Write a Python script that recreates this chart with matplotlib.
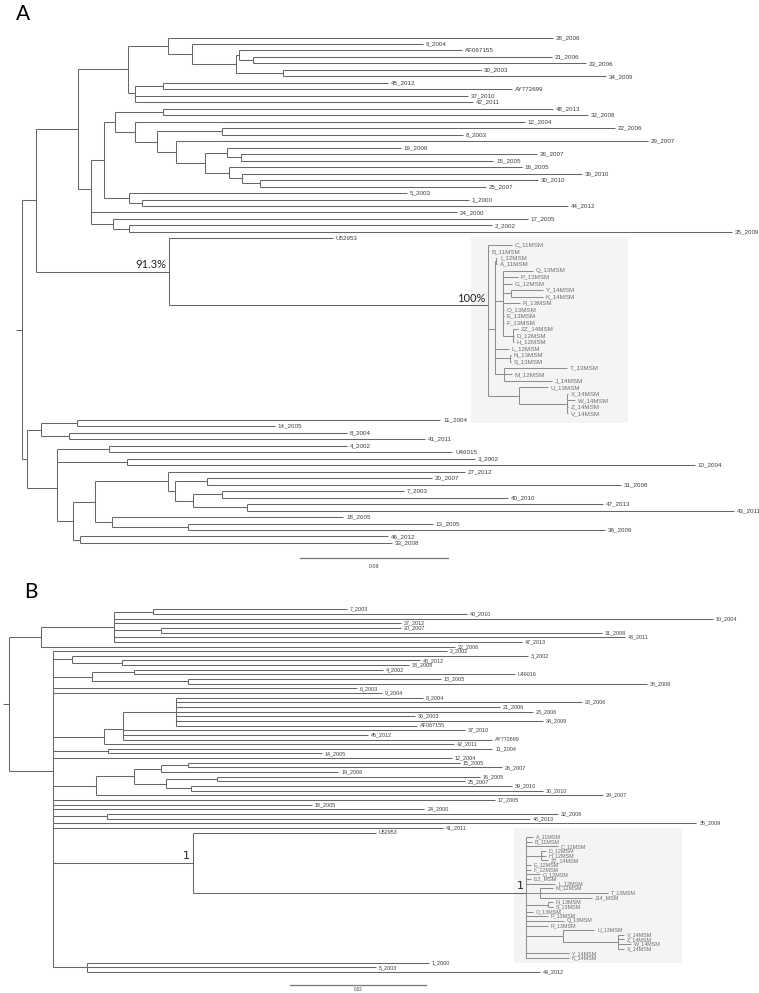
import matplotlib
matplotlib.use("Agg")
import matplotlib.pyplot as plt
import numpy as np
from matplotlib.collections import LineCollection
from matplotlib.patches import Rectangle

# ======================= Panel A (ML tree) =======================
A_LEAVES = ["28_2006", "9_2004", "AF067155", "21_2006", "23_2006", "30_2003", "34_2009", "45_2012",
            "AY772699", "37_2010", "42_2011", "48_2013", "32_2008", "12_2004", "22_2006", "8_2003",
            "29_2007", "19_2006", "26_2007", "15_2005", "16_2005", "39_2010", "30_2010", "25_2007",
            "5_2003", "1_2000", "44_2012", "24_2000", "17_2005", "2_2002", "35_2009", "U52953",
            "C_11MSM", "B_11MSM", "I_12MSM", "A_11MSM", "Q_13MSM", "P_13MSM", "G_12MSM", "Y_14MSM",
            "K_14MSM", "R_13MSM", "O_13MSM", "E_13MSM", "F_13MSM", "ZZ_14MSM", "D_12MSM", "H_12MSM",
            "L_12MSM", "N_13MSM", "S_13MSM", "T_13MSM", "M_12MSM", "J_14MSM", "U_13MSM", "X_14MSM",
            "W_14MSM", "Z_14MSM", "V_14MSM",
            "11_2004", "14_2005", "8_2004", "41_2011", "4_2002", "U46015", "3_2002", "10_2004",
            "27_2012", "20_2007", "31_2008", "7_2003", "40_2010", "47_2013", "43_2011", "18_2005",
            "13_2005", "36_2009", "46_2012", "33_2008"]
# distance of each tip from the root (substitutions/site)
A_TIPS = [0.3229, 0.2438, 0.2675, 0.3222, 0.3429, 0.2791, 0.3551, 0.2225,
          0.2979, 0.2712, 0.2742, 0.3229, 0.3441, 0.3058, 0.3605, 0.2681,
          0.3806, 0.2304, 0.3131, 0.2864, 0.3040, 0.3405, 0.3137, 0.2821,
          0.2341, 0.2718, 0.3320, 0.2645, 0.3076, 0.2858, 0.4317, 0.1891,
          0.2979, 0.2839, 0.2888, 0.2888, 0.3107, 0.3016, 0.2979, 0.3168,
          0.3168, 0.3028, 0.2931, 0.2931, 0.2931, 0.3016, 0.2991, 0.2991,
          0.2961, 0.2973, 0.2973, 0.3314, 0.2979, 0.3222, 0.3198, 0.3320,
          0.3362, 0.3320, 0.3320,
          0.2542, 0.1538, 0.1976, 0.2450, 0.1976, 0.2615, 0.2754, 0.4092,
          0.2693, 0.2493, 0.3642, 0.2323, 0.2955, 0.3532, 0.4329, 0.1952,
          0.2499, 0.3545, 0.2225, 0.2250]
# internal nodes: (id, distance from root, children)
A_NODES = [
    ("rootA", 0.0, ["a1", "b1"]),
    ("a1", 0.0085, ["top", "n913"]),
    ("top", 0.0341, ["g", "k"]),
    ("g", 0.0645, ["na", "h"]),
    ("na", 0.0888, ["28_2006", "nb"]),
    ("nb", 0.1034, ["9_2004", "nc"]),
    ("nc", 0.1301, ["nd", "ne"]),
    ("nd", 0.1319, ["AF067155", "nf"]),
    ("nf", 0.1405, ["21_2006", "23_2006"]),
    ("ne", 0.1587, ["30_2003", "34_2009"]),
    ("h", 0.0687, ["ni", "h2"]),
    ("ni", 0.0857, ["45_2012", "AY772699"]),
    ("h2", 0.0687, ["37_2010", "42_2011"]),
    ("k", 0.0420, ["l", "k2"]),
    ("k2", 0.0420, ["24_2000", "m"]),
    ("m", 0.0553, ["17_2005", "nn"]),
    ("nn", 0.0651, ["2_2002", "35_2009"]),
    ("l", 0.0499, ["o", "p"]),
    ("p", 0.0651, ["5_2003", "q"]),
    ("q", 0.0730, ["1_2000", "44_2012"]),
    ("o", 0.0566, ["r", "s"]),
    ("r", 0.0857, ["48_2013", "32_2008"]),
    ("s", 0.0687, ["12_2004", "t"]),
    ("t", 0.0821, ["u", "v"]),
    ("u", 0.1216, ["22_2006", "8_2003"]),
    ("v", 0.0936, ["29_2007", "w"]),
    ("w", 0.1113, ["x", "y"]),
    ("x", 0.1247, ["19_2006", "z"]),
    ("z", 0.1332, ["26_2007", "15_2005"]),
    ("y", 0.1259, ["16_2005", "aa"]),
    ("aa", 0.1338, ["39_2010", "ab"]),
    ("ab", 0.1447, ["30_2010", "25_2007"]),
    ("n913", 0.0894, ["U52953", "msm"]),
    ("msm", 0.2834, ["C_11MSM", "B_11MSM", "mp1", "mu"]),
    ("mp1", 0.2876, ["mia", "mq", "L_12MSM", "mns", "mtmj"]),
    ("mia", 0.2882, ["I_12MSM", "A_11MSM"]),
    ("mq", 0.2925, ["Q_13MSM", "P_13MSM", "G_12MSM", "myk", "R_13MSM", "O_13MSM",
                    "E_13MSM", "F_13MSM", "mzdh"]),
    ("myk", 0.2973, ["Y_14MSM", "K_14MSM"]),
    ("mzdh", 0.2985, ["ZZ_14MSM", "D_12MSM", "H_12MSM"]),
    ("mns", 0.2967, ["N_13MSM", "S_13MSM"]),
    ("mtmj", 0.2931, ["T_13MSM", "M_12MSM", "J_14MSM"]),
    ("mu", 0.3022, ["U_13MSM", "mxwzv"]),
    ("mxwzv", 0.3314, ["X_14MSM", "W_14MSM", "Z_14MSM", "V_14MSM"]),
    ("b1", 0.0030, ["d", "e"]),
    ("d", 0.0116, ["c", "gg"]),
    ("c", 0.0334, ["11_2004", "14_2005"]),
    ("gg", 0.0286, ["8_2004", "41_2011"]),
    ("e", 0.0213, ["hi", "j"]),
    ("hi", 0.0213, ["hh", "ii"]),
    ("hh", 0.0529, ["4_2002", "U46015"]),
    ("ii", 0.0638, ["3_2002", "10_2004"]),
    ("j", 0.0310, ["kk", "ll"]),
    ("kk", 0.0444, ["mm", "nnn"]),
    ("mm", 0.0888, ["27_2012", "pp"]),
    ("pp", 0.0930, ["qq", "rr"]),
    ("qq", 0.1125, ["20_2007", "31_2008"]),
    ("rr", 0.1040, ["ss", "tt"]),
    ("ss", 0.1216, ["7_2003", "40_2010"]),
    ("tt", 0.1368, ["47_2013", "43_2011"]),
    ("nnn", 0.0547, ["18_2005", "oo"]),
    ("oo", 0.1009, ["13_2005", "36_2009"]),
    ("ll", 0.0353, ["46_2012", "33_2008"]),
]
A_SUPPORT = {"n913": "91.3%", "msm": "100%"}
A_CLADE = "msm"
A_SCALE = 0.09

# ======================= Panel B (Bayesian tree) =======================
B_LEAVES = ["7_2003", "40_2010", "10_2004", "27_2012", "20_2007", "31_2008", "43_2011", "47_2013",
            "22_2006", "2_2002", "3_2002", "46_2012", "33_2008", "4_2002", "U46016", "13_2005",
            "36_2009", "6_2003", "9_2004", "8_2004", "28_2006", "21_2006", "23_2006", "30_2003",
            "34_2009", "AF067155", "37_2010", "45_2012", "AY772699", "42_2011", "11_2004", "14_2005",
            "12_2004", "15_2005", "26_2007", "19_2006", "16_2005", "25_2007", "39_2010", "30_2010",
            "29_2007", "17_2005", "18_2005", "24_2000", "32_2008", "48_2013", "35_2009", "41_2011",
            "U52953",
            "A_11MSM", "B_11MSM", "C_11MSM", "D_12MSM", "H_12MSM", "ZZ_14MSM", "E_12MSM", "F_12MSM",
            "G_12MSM", "I12_MSM", "L_12MSM", "M_12MSM", "T_13MSM", "J14_MSM", "N_13MSM", "S_13MSM",
            "O_13MSM", "P_13MSM", "Q_13MSM", "R_13MSM", "U_13MSM", "V_14MSM", "Z_14MSM", "W_14MSM",
            "X_14MSM", "Y_14MSM", "K_14MSM",
            "1_2000", "5_2003", "44_2012"]
B_TIPS = [0.0497, 0.0673, 0.1035, 0.0576, 0.0576, 0.0872, 0.0906, 0.0754,
          0.0656, 0.0644, 0.0763, 0.0604, 0.0588, 0.0550, 0.0744, 0.0635,
          0.0938, 0.0512, 0.0548, 0.0609, 0.0842, 0.0722, 0.0770, 0.0597,
          0.0785, 0.0600, 0.0670, 0.0528, 0.0710, 0.0654, 0.0711, 0.0460,
          0.0651, 0.0663, 0.0725, 0.0484, 0.0692, 0.0670, 0.0739, 0.0785,
          0.0873, 0.0714, 0.0445, 0.0611, 0.0807, 0.0766, 0.1011, 0.0638,
          0.0539,
          0.0770, 0.0769, 0.0807, 0.0789, 0.0789, 0.0792, 0.0767, 0.0767,
          0.0781, 0.0767, 0.0803, 0.0800, 0.0881, 0.0858, 0.0800, 0.0800,
          0.0770, 0.0792, 0.0816, 0.0792, 0.0861, 0.0904, 0.0904, 0.0914,
          0.0904, 0.0823, 0.0823,
          0.0617, 0.0539, 0.0781]
B_NODES = [
    ("rootB", 0.0, ["b1", "b2"]),
    ("b1", 0.0047, ["b3", "22_2006"]),
    ("b3", 0.0154, ["b740", "10_2004", "27_2012", "b2031", "43_2011", "47_2013"]),
    ("b740", 0.0212, ["7_2003", "40_2010"]),
    ("b2031", 0.0223, ["20_2007", "31_2008"]),
    ("b2", 0.0065, ["2_2002", "b4", "b5", "6_2003", "9_2004", "b8", "b9", "12_2004", "b10",
                    "17_2005", "18_2005", "24_2000", "b3248", "35_2009", "41_2011", "bmsm", "bbot"]),
    ("b4", 0.0093, ["3_2002", "b4633"]),
    ("b4633", 0.0166, ["46_2012", "33_2008"]),
    ("b5", 0.0122, ["b4u", "b1336"]),
    ("b4u", 0.0184, ["4_2002", "U46016"]),
    ("b1336", 0.0263, ["13_2005", "36_2009"]),
    ("b8", 0.0140, ["b7", "42_2011"]),
    ("b7", 0.0168, ["b6", "37_2010", "45_2012", "AY772699"]),
    ("b6", 0.0246, ["8_2004", "28_2006", "21_2006", "23_2006", "30_2003", "34_2009", "AF067155"]),
    ("b9", 0.0146, ["11_2004", "14_2005"]),
    ("b10", 0.0128, ["b11", "29_2007"]),
    ("b11", 0.0184, ["b12", "b13"]),
    ("b12", 0.0223, ["b1526", "19_2006"]),
    ("b1526", 0.0263, ["15_2005", "26_2007"]),
    ("b13", 0.0231, ["b1625", "b3930"]),
    ("b1625", 0.0306, ["16_2005", "25_2007"]),
    ("b3930", 0.0268, ["39_2010", "30_2010"]),
    ("b3248", 0.0144, ["32_2008", "48_2013"]),
    ("bmsm", 0.0270, ["U52953", "mb"]),
    ("mb", 0.0761, ["A_11MSM", "B_11MSM", "C_11MSM", "mbdhz", "E_12MSM", "F_12MSM", "G_12MSM",
                    "I12_MSM", "L_12MSM", "mbmtj", "mbns", "O_13MSM", "P_13MSM", "Q_13MSM",
                    "R_13MSM", "mbu", "Y_14MSM", "K_14MSM"]),
    ("mbdhz", 0.0782, ["D_12MSM", "H_12MSM", "ZZ_14MSM"]),
    ("mbmtj", 0.0781, ["M_12MSM", "T_13MSM", "J14_MSM"]),
    ("mbns", 0.0792, ["N_13MSM", "S_13MSM"]),
    ("mbu", 0.0815, ["U_13MSM", "mbvzwx"]),
    ("mbvzwx", 0.0895, ["V_14MSM", "Z_14MSM", "W_14MSM", "X_14MSM"]),
    ("bbot", 0.0115, ["1_2000", "5_2003", "44_2012"]),
]
B_SUPPORT = {"bmsm": "1", "mb": "1"}
B_CLADE = "mb"
B_SCALE = 0.02

# ======================= drawing =======================
W, H = 759, 993
fig = plt.figure(figsize=(W / 100, H / 100), dpi=100)

LINE = "#666666"
LINE_IN = "#8e8e8e"
TXT = "#3c3c3c"
TXT_IN = "#707070"


def make_axes(top_px, bot_px, px_per_unit, root_px, y0_px, dy_px):
    ax = fig.add_axes([0, 1 - bot_px / H, 1, (bot_px - top_px) / H])
    ax.set_xlim(-root_px / px_per_unit, (W - root_px) / px_per_unit)
    ax.set_ylim((bot_px - y0_px) / dy_px, (top_px - y0_px) / dy_px)
    ax.axis("off")
    ax.patch.set_alpha(0)
    return ax


def draw_tree(ax, leaves, tips, nodes, root, support, clade, px, fs, sfs, sfam):
    depth = dict(zip(leaves, tips))
    ypos = {n: float(i) for i, n in enumerate(leaves)}
    kids = {}
    for nid, d, ch in nodes:
        depth[nid] = d
        kids[nid] = ch

    def gety(n):
        if n not in ypos:
            ypos[n] = float(np.mean([gety(c) for c in kids[n]]))
        return ypos[n]

    gety(root)

    inside = set()

    def collect(n):
        inside.add(n)
        for c in kids.get(n, []):
            collect(c)

    collect(clade)

    segs, cols = [], []
    for nid, d, ch in nodes:
        ys = [ypos[c] for c in ch]
        col = LINE_IN if nid in inside else LINE
        segs.append([(d, min(ys)), (d, max(ys))])
        cols.append(col)
        for c in ch:
            segs.append([(d, ypos[c]), (depth[c], ypos[c])])
            cols.append(col)
    # root stub
    segs.append([(-6 * px, ypos[root]), (0, ypos[root])])
    cols.append(LINE)
    ax.add_collection(LineCollection(segs, colors=cols, linewidths=0.75, zorder=2))

    for n in leaves:
        c = TXT_IN if n in inside else TXT
        ax.text(depth[n] + 3 * px, ypos[n], n, fontsize=fs, color=c, va="center", ha="left",
                family="Liberation Sans", zorder=3)
    for nid, lab in support.items():
        ax.annotate(lab, (depth[nid], ypos[nid]), xytext=(-2, 1), textcoords="offset points",
                    ha="right", va="bottom", fontsize=sfs, family=sfam, color="#222222", zorder=3)
    return depth, ypos, inside


# ---- Panel A ----
pxA = A_SCALE / 148.0
axA = make_axes(0, 590, 1 / pxA, 22, 37.5, 6.48)
dA, yA, inA = draw_tree(axA, A_LEAVES, A_TIPS, A_NODES, "rootA", A_SUPPORT, A_CLADE, pxA,
                        4.5, 8, "Lato")
msm_leaf_idx = [yA[n] for n in A_LEAVES if n in inA]
axA.add_patch(Rectangle((dA[A_CLADE] - 17 * pxA, min(msm_leaf_idx) - 1.2), 157 * pxA,
                        max(msm_leaf_idx) - min(msm_leaf_idx) + 2.7,
                        facecolor="#f4f4f4", edgecolor="none", zorder=0))
sbA_x, sbA_y = 278 * pxA, 80.3
axA.plot([sbA_x, sbA_x + A_SCALE], [sbA_y, sbA_y], color="#777777", lw=0.9)
axA.text(sbA_x + A_SCALE / 2, sbA_y + 1.4, f"{A_SCALE:.2f}", fontsize=3.8, ha="center", va="center",
         color=TXT, family="Liberation Sans")

# ---- Panel B ----
pxB = B_SCALE / 136.0
axB = make_axes(590, 993, 1 / pxB, 9, 609.3, 4.65)
dB, yB, inB = draw_tree(axB, B_LEAVES, B_TIPS, B_NODES, "rootB", B_SUPPORT, B_CLADE, pxB,
                        3.9, 8, "DejaVu Sans")
mb_leaf_idx = [yB[n] for n in B_LEAVES if n in inB]
axB.add_patch(Rectangle((dB[B_CLADE] - 12 * pxB, min(mb_leaf_idx) - 2.0), 168 * pxB,
                        max(mb_leaf_idx) - min(mb_leaf_idx) + 3.1,
                        facecolor="#f4f4f4", edgecolor="none", zorder=0))
sbB_x, sbB_y = 281 * pxB, 80.8
axB.plot([sbB_x, sbB_x + B_SCALE], [sbB_y, sbB_y], color="#777777", lw=0.9)
axB.text(sbB_x + B_SCALE / 2, sbB_y + 1.0, f"{B_SCALE:.2f}", fontsize=3.3, ha="center", va="center",
         color=TXT, family="Liberation Sans")

fig.text(16 / W, 1 - 4 / H, "A", fontsize=15, family="Lato", va="top", ha="left")
fig.text(24 / W, 1 - 582 / H, "B", fontsize=15, family="Lato", va="top", ha="left")

fig.savefig("out.png", dpi=100)
